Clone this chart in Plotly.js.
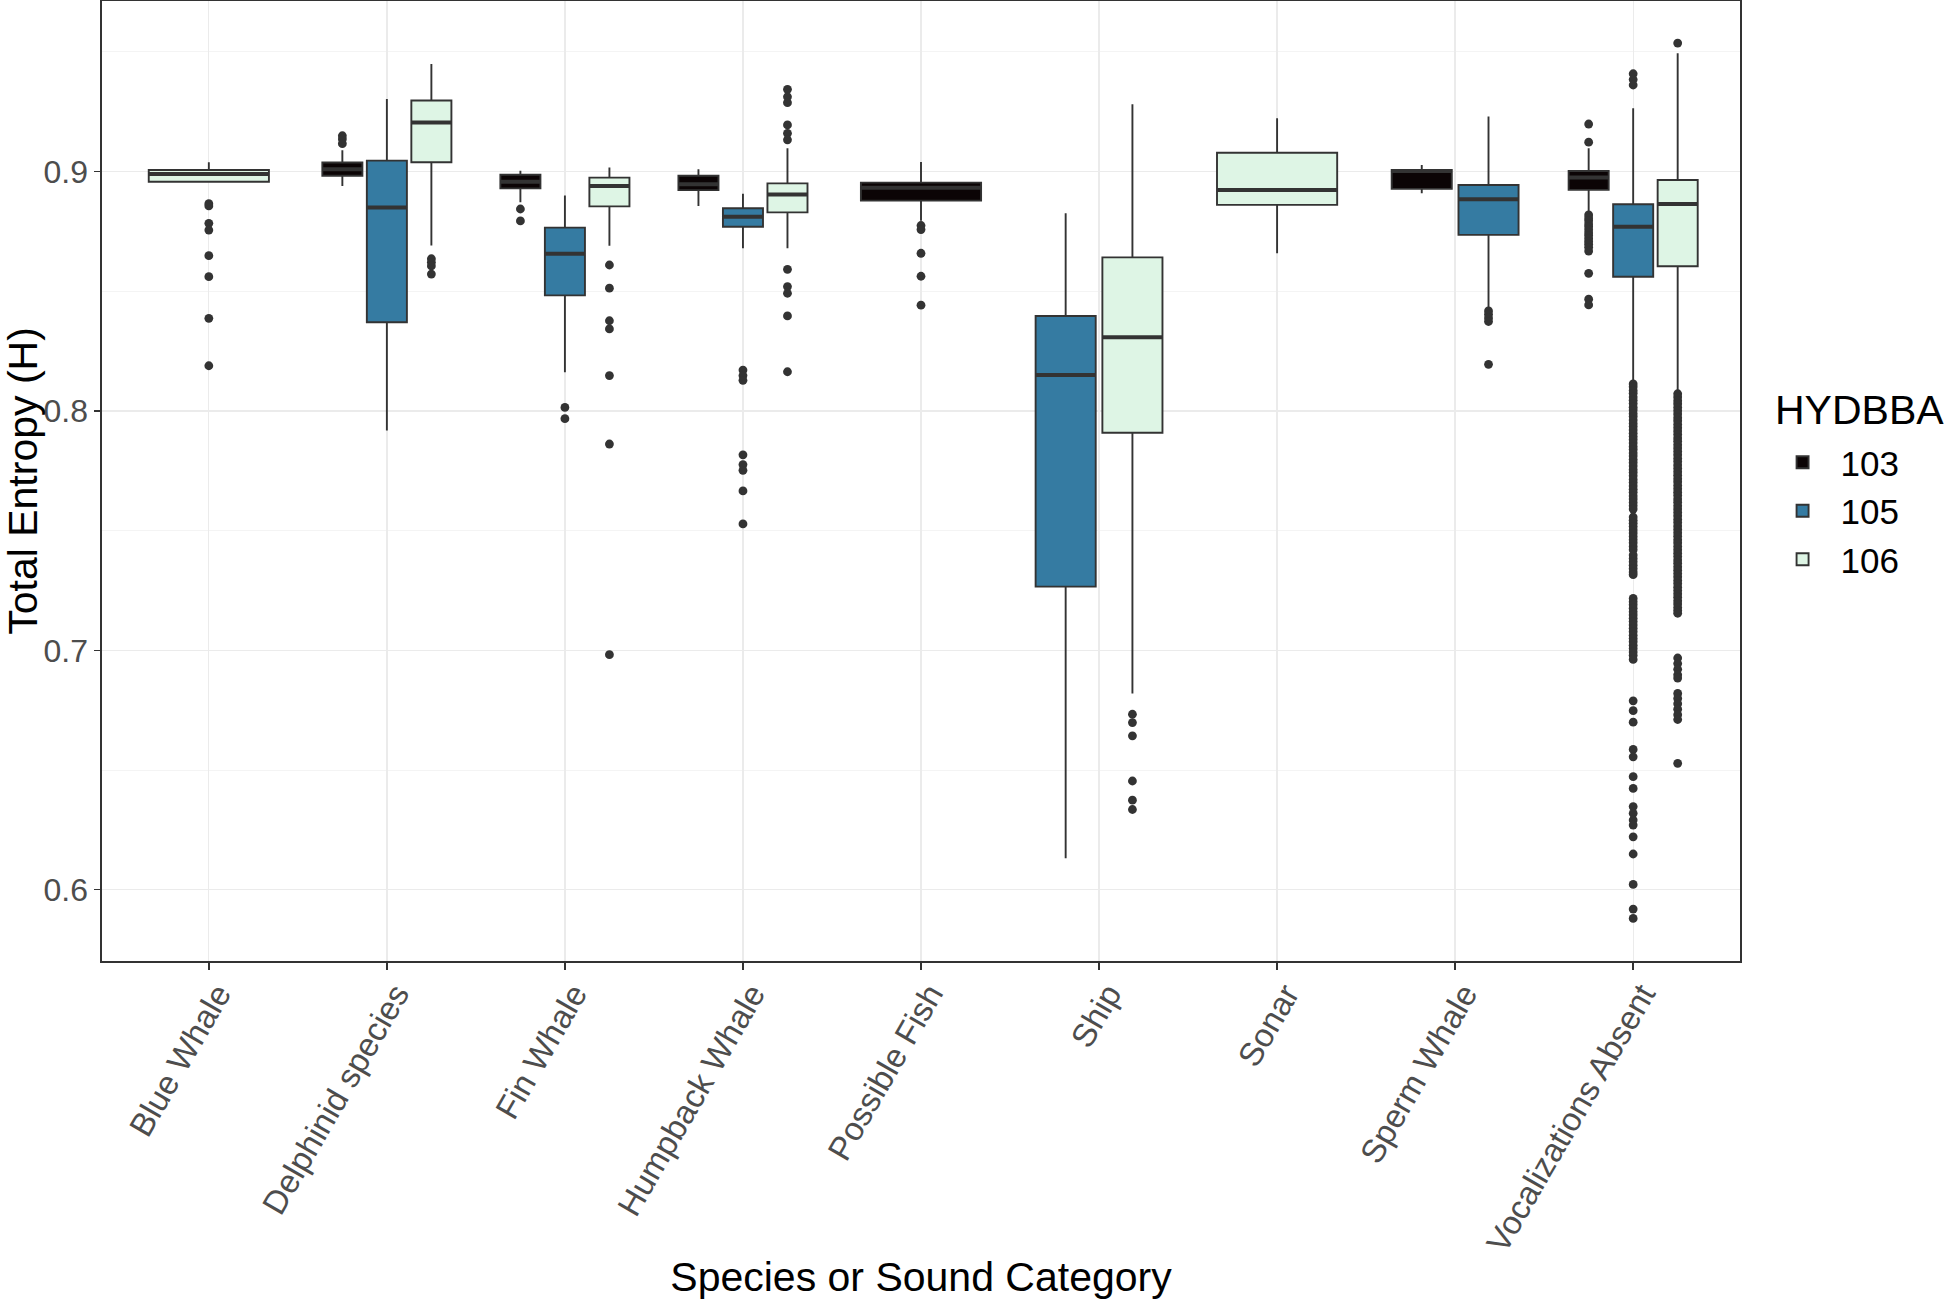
<!DOCTYPE html>
<html><head><meta charset="utf-8">
<script src="https://cdn.plot.ly/plotly-3.0.1.min.js"></script>
<style>html,body{margin:0;padding:0;background:#fff;} #chart{width:1949px;height:1300px;}</style>
</head><body><div id="chart"></div>
<script>
const categories = ['Blue Whale','Delphinid species','Fin Whale','Humpback Whale','Possible Fish','Ship','Sonar','Sperm Whale','Vocalizations Absent'];
const groups = ['103','105','106'];

// HYDBBA 103
const lower103 = [null, 0.8940, 0.8872, 0.8857, 0.8795, null, null, 0.8910, 0.8826];
const q1_103   = [null, 0.8983, 0.8930, 0.8923, 0.8879, null, null, 0.8928, 0.8924];
const med103   = [null, 0.9010, 0.8958, 0.8947, 0.8933, null, null, 0.9003, 0.8976];
const q3_103   = [null, 0.9038, 0.8987, 0.8983, 0.8954, null, null, 0.9007, 0.9003];
const upper103 = [null, 0.9089, 0.9004, 0.9010, 0.9040, null, null, 0.9028, 0.9098];
const out103 = [
  [],
  [0.9150, 0.9136, 0.9117],
  [0.8844, 0.8794],
  [],
  [0.8775, 0.8758, 0.8659, 0.8563, 0.8442],
  [], [], [],
  [0.9199, 0.9123, 0.8819, 0.8806, 0.8795, 0.8781, 0.8770, 0.8757, 0.8744, 0.8733, 0.8720, 0.8708, 0.8697, 0.8684, 0.8668, 0.8575, 0.8467, 0.8443]
];

// HYDBBA 105
const lower105 = [null, 0.7918, 0.8162, 0.8680, null, 0.6131, null, 0.8429, 0.8125];
const q1_105   = [null, 0.8371, 0.8483, 0.8770, null, 0.7266, null, 0.8736, 0.8561];
const med105   = [null, 0.8850, 0.8657, 0.8812, null, 0.8150, null, 0.8885, 0.8770];
const q3_105   = [null, 0.9046, 0.8766, 0.8847, null, 0.8397, null, 0.8944, 0.8864];
const upper105 = [null, 0.9304, 0.8900, 0.8908, null, 0.8826, null, 0.9230, 0.9265];
const out105 = [
  [],
  [],
  [0.8015, 0.7968],
  [0.8171, 0.8148, 0.8128, 0.7817, 0.7776, 0.7752, 0.7666, 0.7528],
  [],
  [],
  [],
  [0.8418, 0.8404, 0.8389, 0.8374, 0.8195],
  [0.9409, 0.9385, 0.9362,
   0.8113, 0.8101, 0.8086, 0.8074, 0.8058, 0.8045, 0.8031, 0.8016, 0.8004, 0.7989, 0.7977, 0.7962, 0.7948, 0.7935, 0.7921, 0.7907, 0.7893, 0.7880, 0.7866, 0.7851, 0.7839, 0.7824, 0.7812, 0.7797, 0.7784, 0.7770, 0.7755, 0.7743, 0.7729, 0.7714, 0.7701, 0.7687, 0.7673, 0.7660, 0.7645, 0.7632, 0.7618, 0.7604, 0.7590,
   0.7557, 0.7544, 0.7531, 0.7517, 0.7503, 0.7490, 0.7476, 0.7462, 0.7449, 0.7434, 0.7420,
   0.7398, 0.7384, 0.7370, 0.7356, 0.7341, 0.7327, 0.7316,
   0.7217, 0.7203, 0.7190, 0.7176, 0.7161, 0.7148, 0.7134, 0.7120, 0.7106, 0.7092, 0.7078, 0.7063, 0.7049, 0.7036, 0.7021, 0.7008, 0.6993, 0.6979, 0.6962,
   0.6789, 0.6748, 0.6700, 0.6586, 0.6555, 0.6472, 0.6423, 0.6347, 0.6319, 0.6291, 0.6270, 0.6221, 0.6149, 0.6022, 0.5919, 0.5880]
];

// HYDBBA 106
const lower106 = [0.8958, 0.8691, 0.8690, 0.8680, null, 0.6820, 0.8659, null, 0.8081];
const q1_106   = [0.8958, 0.9039, 0.8855, 0.8830, null, 0.7909, 0.8861, null, 0.8605];
const med106   = [0.8990, 0.9205, 0.8940, 0.8905, null, 0.8308, 0.8923, null, 0.8865];
const q3_106   = [0.9007, 0.9297, 0.8975, 0.8951, null, 0.8642, 0.9079, null, 0.8965];
const upper106 = [0.9039, 0.9450, 0.9017, 0.9098, null, 0.9282, 0.9223, null, 0.9495];
const out106 = [
  [0.8866, 0.8857, 0.8784, 0.8756, 0.8649, 0.8561, 0.8387, 0.8189],
  [0.8636, 0.8621, 0.8606, 0.8572],
  [0.8610, 0.8513, 0.8377, 0.8343, 0.8148, 0.7862, 0.6982],
  [0.9344, 0.9313, 0.9288, 0.9195, 0.9160, 0.9133, 0.8592, 0.8520, 0.8492, 0.8397, 0.8164],
  [],
  [0.6733, 0.6698, 0.6643, 0.6454, 0.6374, 0.6335],
  [],
  [],
  [0.9537,
   0.8072, 0.8058, 0.8043, 0.8030, 0.8015, 0.8001, 0.7987, 0.7972, 0.7959, 0.7944, 0.7930, 0.7916, 0.7902, 0.7887, 0.7874, 0.7859, 0.7845, 0.7831, 0.7817, 0.7802, 0.7789, 0.7774, 0.7760, 0.7746, 0.7732, 0.7717, 0.7704, 0.7689, 0.7675, 0.7661, 0.7647, 0.7632, 0.7619, 0.7604, 0.7590, 0.7576, 0.7562, 0.7547, 0.7534, 0.7519, 0.7505, 0.7491, 0.7477, 0.7462, 0.7449, 0.7434, 0.7420, 0.7406, 0.7392, 0.7377, 0.7364, 0.7349, 0.7335, 0.7321, 0.7307, 0.7292, 0.7279, 0.7264, 0.7250, 0.7236, 0.7222, 0.7207, 0.7194, 0.7179, 0.7166, 0.7155,
   0.6968, 0.6945, 0.6921, 0.6898, 0.6884,
   0.6820, 0.6799, 0.6777, 0.6754, 0.6731, 0.6711,
   0.6528]
];

const stats = {
  '103': {lo: lower103, q1: q1_103, med: med103, q3: q3_103, hi: upper103, out: out103},
  '105': {lo: lower105, q1: q1_105, med: med105, q3: q3_105, hi: upper105, out: out105},
  '106': {lo: lower106, q1: q1_106, med: med106, q3: q3_106, hi: upper106, out: out106}
};
const fills = {'103': '#0B0405', '105': '#357BA2', '106': '#DEF5E5'};
const edge = '#333333';
const FONT = 'Liberation Sans, Arial, sans-serif';

// dodge like ggplot2 (width 0.75, padding 0.1)
const DODGE = 0.75, PAD = 0.1;
function place(ci, g) {
  const present = groups.filter(k => stats[k].q1[ci] !== null);
  const n = present.length;
  const slot = DODGE / n;
  const idx = present.indexOf(g);
  return {center: (ci + 1) - DODGE / 2 + slot * (idx + 0.5), width: slot * (1 - PAD)};
}

const traces = [];
const medTraces = [];
const outTraces = [];
groups.forEach(g => {
  const s = stats[g];
  let first = true;
  const mx = [], my = [], ox = [], oy = [];
  categories.forEach((cat, ci) => {
    if (s.q1[ci] === null) return;
    const p = place(ci, g);
    traces.push({
      type: 'box', name: g, legendgroup: g, showlegend: first,
      x: [p.center], q1: [s.q1[ci]], median: [s.med[ci]], q3: [s.q3[ci]],
      lowerfence: [s.lo[ci]], upperfence: [s.hi[ci]],
      width: p.width, whiskerwidth: 0,
      fillcolor: fills[g], line: {color: edge, width: 1.9},
      hoverinfo: 'skip'
    });
    first = false;
    mx.push(p.center - p.width / 2, p.center + p.width / 2, null);
    my.push(s.med[ci], s.med[ci], null);
    s.out[ci].forEach(v => { ox.push(p.center); oy.push(v); });
  });
  medTraces.push({type: 'scatter', mode: 'lines', x: mx, y: my, showlegend: false,
    line: {color: edge, width: 4}, hoverinfo: 'skip', legendgroup: g});
  outTraces.push({type: 'scatter', mode: 'markers', x: ox, y: oy, showlegend: false,
    marker: {color: edge, size: 8.8}, hoverinfo: 'skip', legendgroup: g});
});

const layout = {
  width: 1949, height: 1300,
  paper_bgcolor: '#ffffff', plot_bgcolor: '#ffffff',
  margin: {l: 102, r: 209, t: 1, b: 339},
  font: {family: FONT, color: '#000000'},
  boxmode: 'overlay',
  showlegend: true,
  xaxis: {
    range: [0.4, 9.6], tickvals: categories.map((c, i) => i + 1), ticktext: categories,
    tickangle: -60, tickfont: {size: 33, color: '#4D4D4D', family: FONT},
    ticklabelshift: 9, ticklabelstandoff: -8,
    showgrid: true, gridcolor: '#EBEBEB', gridwidth: 1.3, zeroline: false,
    showline: true, mirror: true, linecolor: edge, linewidth: 1.6,
    ticks: 'outside', ticklen: 7, tickcolor: edge, tickwidth: 1.4,
    automargin: false,
    title: {text: 'Species or Sound Category', font: {size: 41, color: '#000000', family: FONT}, standoff: 22}
  },
  yaxis: {
    range: [0.5702, 0.9713], tick0: 0, dtick: 0.1, tickformat: '.1f',
    tickfont: {size: 32, color: '#4D4D4D', family: FONT},
    showgrid: true, gridcolor: '#EBEBEB', gridwidth: 1.3, zeroline: false,
    minor: {dtick: 0.05, tick0: 0, showgrid: true, gridcolor: '#F0F0F0', gridwidth: 0.7, ticks: ''},
    showline: true, mirror: true, linecolor: edge, linewidth: 1.6,
    ticks: 'outside', ticklen: 6, tickcolor: edge, tickwidth: 1.4,
    automargin: false,
    title: {text: 'Total Entropy (H)', font: {size: 41, color: '#000000', family: FONT}, standoff: 21}
  },
  legend: {
    x: 1.015, xanchor: 'left', y: 0.550, yanchor: 'top',
    font: {size: 35, color: '#000000', family: FONT},
    bgcolor: 'rgba(0,0,0,0)', tracegroupgap: 0, itemwidth: 66
  },
  annotations: [{
    text: 'HYDBBA', xref: 'paper', yref: 'paper', x: 1.0201, y: 0.574,
    xanchor: 'left', yanchor: 'middle', showarrow: false,
    font: {size: 41, color: '#000000', family: FONT}
  }]
};

Plotly.newPlot('chart', traces.concat(medTraces, outTraces), layout, {displayModeBar: false, staticPlot: true});
</script>
</body></html>
